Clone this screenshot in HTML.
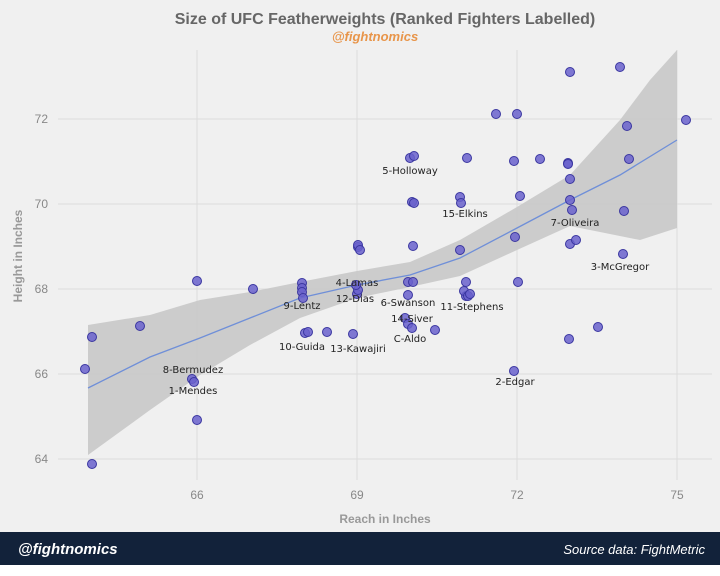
<!DOCTYPE html>
<html><head><style>
body{margin:0;width:720px;height:571px;background:#fff;font-family:"Liberation Sans",sans-serif;overflow:hidden}
</style></head><body>
<svg width="720" height="571" xmlns="http://www.w3.org/2000/svg" font-family="Liberation Sans, sans-serif">
<rect x="0" y="0" width="720" height="532" fill="#f0f0f0"/>
<text x="385" y="24" text-anchor="middle" font-size="16" font-weight="bold" fill="#666">Size of UFC Featherweights (Ranked Fighters Labelled)</text>
<text x="375" y="41" text-anchor="middle" font-size="13" font-weight="bold" font-style="italic" fill="#e8954a">@fightnomics</text>
<g stroke="#dcdcdc" stroke-width="1">
<line x1="197" y1="50" x2="197" y2="480"/><line x1="357" y1="50" x2="357" y2="480"/><line x1="517" y1="50" x2="517" y2="480"/><line x1="677" y1="50" x2="677" y2="480"/>
<line x1="58" y1="119" x2="712" y2="119"/><line x1="58" y1="204" x2="712" y2="204"/><line x1="58" y1="289" x2="712" y2="289"/><line x1="58" y1="374" x2="712" y2="374"/><line x1="58" y1="459" x2="712" y2="459"/>
</g>
<g font-size="12" fill="#888" text-anchor="end">
<text x="48" y="123">72</text><text x="48" y="208">70</text><text x="48" y="293">68</text><text x="48" y="378">66</text><text x="48" y="463">64</text></g>
<g font-size="12" fill="#888" text-anchor="middle">
<text x="197" y="499">66</text><text x="357" y="499">69</text><text x="517" y="499">72</text><text x="677" y="499">75</text></g>
<text x="385" y="523" text-anchor="middle" font-size="12" font-weight="bold" fill="#999">Reach in Inches</text>
<text transform="translate(22,256) rotate(-90)" text-anchor="middle" font-size="12" font-weight="bold" fill="#999">Height in Inches</text>
<path d="M88,325 L150,315 L200,300 L250,292 L300,282 L357,271 L410,262 L460,240 L517,207 L570,175 L620,120 L650,80 L677,50 L677,228 L640,240 L600,232 L570,226 L517,250 L460,276 L410,287 L357,298 L300,318 L250,345 L200,375 L150,410 L88,455 Z" fill="#c8c8c8" opacity="0.9"/>
<polyline points="88,388 150,357 200,338 250,318 300,298 357,285 410,275 460,258 517,228 570,200 620,175 677,140" fill="none" stroke="#6f8fd8" stroke-width="1.3"/>
<g fill="#6a62cc" stroke="#3a36a0" stroke-width="1" fill-opacity="0.85">
<circle cx="85" cy="369" r="4.5"/><circle cx="92" cy="337" r="4.5"/><circle cx="92" cy="464" r="4.5"/><circle cx="140" cy="326" r="4.5"/><circle cx="197" cy="281" r="4.5"/><circle cx="197" cy="420" r="4.5"/><circle cx="192" cy="379" r="4.5"/><circle cx="194" cy="382" r="4.5"/><circle cx="253" cy="289" r="4.5"/><circle cx="302" cy="283" r="4.5"/><circle cx="302" cy="288" r="4.5"/><circle cx="302" cy="292" r="4.5"/><circle cx="303" cy="298" r="4.5"/><circle cx="305" cy="333" r="4.5"/><circle cx="308" cy="332" r="4.5"/><circle cx="327" cy="332" r="4.5"/><circle cx="353" cy="334" r="4.5"/><circle cx="358" cy="247" r="4.5"/><circle cx="358" cy="245" r="4.5"/><circle cx="360" cy="250" r="4.5"/><circle cx="357" cy="294" r="4.5"/><circle cx="358" cy="290" r="4.5"/><circle cx="356" cy="285" r="4.5"/><circle cx="410" cy="158" r="4.5"/><circle cx="414" cy="156" r="4.5"/><circle cx="412" cy="202" r="4.5"/><circle cx="414" cy="203" r="4.5"/><circle cx="413" cy="246" r="4.5"/><circle cx="408" cy="282" r="4.5"/><circle cx="413" cy="282" r="4.5"/><circle cx="408" cy="295" r="4.5"/><circle cx="405" cy="318" r="4.5"/><circle cx="408" cy="324" r="4.5"/><circle cx="412" cy="328" r="4.5"/><circle cx="435" cy="330" r="4.5"/><circle cx="460" cy="197" r="4.5"/><circle cx="461" cy="203" r="4.5"/><circle cx="460" cy="250" r="4.5"/><circle cx="466" cy="282" r="4.5"/><circle cx="466" cy="296" r="4.5"/><circle cx="464" cy="291" r="4.5"/><circle cx="468" cy="296" r="4.5"/><circle cx="470" cy="294" r="4.5"/><circle cx="467" cy="158" r="4.5"/><circle cx="496" cy="114" r="4.5"/><circle cx="517" cy="114" r="4.5"/><circle cx="514" cy="161" r="4.5"/><circle cx="520" cy="196" r="4.5"/><circle cx="515" cy="237" r="4.5"/><circle cx="518" cy="282" r="4.5"/><circle cx="514" cy="371" r="4.5"/><circle cx="540" cy="159" r="4.5"/><circle cx="568" cy="163" r="4.5"/><circle cx="568" cy="164" r="4.5"/><circle cx="570" cy="72" r="4.5"/><circle cx="570" cy="179" r="4.5"/><circle cx="570" cy="200" r="4.5"/><circle cx="572" cy="210" r="4.5"/><circle cx="570" cy="244" r="4.5"/><circle cx="576" cy="240" r="4.5"/><circle cx="569" cy="339" r="4.5"/><circle cx="598" cy="327" r="4.5"/><circle cx="620" cy="67" r="4.5"/><circle cx="627" cy="126" r="4.5"/><circle cx="629" cy="159" r="4.5"/><circle cx="624" cy="211" r="4.5"/><circle cx="623" cy="254" r="4.5"/><circle cx="686" cy="120" r="4.5"/>
</g>
<g font-size="10" fill="#222" text-anchor="middle" font-family="DejaVu Sans, sans-serif">
<text x="410" y="174">5-Holloway</text><text x="465" y="217">15-Elkins</text><text x="575" y="226">7-Oliveira</text><text x="620" y="270">3-McGregor</text><text x="357" y="286">4-Lamas</text><text x="355" y="302">12-Dias</text><text x="302" y="309">9-Lentz</text><text x="408" y="306">6-Swanson</text><text x="472" y="310">11-Stephens</text><text x="412" y="322">14-Siver</text><text x="410" y="342">C-Aldo</text><text x="302" y="350">10-Guida</text><text x="358" y="352">13-Kawajiri</text><text x="193" y="373">8-Bermudez</text><text x="193" y="394">1-Mendes</text><text x="515" y="385">2-Edgar</text>
</g>
<rect x="0" y="532" width="720" height="33" fill="#12223a"/>
<text x="18" y="554" font-size="15" font-weight="bold" font-style="italic" fill="#fff">@fightnomics</text>
<text x="705" y="554" text-anchor="end" font-size="13" font-style="italic" fill="#fff">Source data: FightMetric</text>
</svg>
</body></html>
